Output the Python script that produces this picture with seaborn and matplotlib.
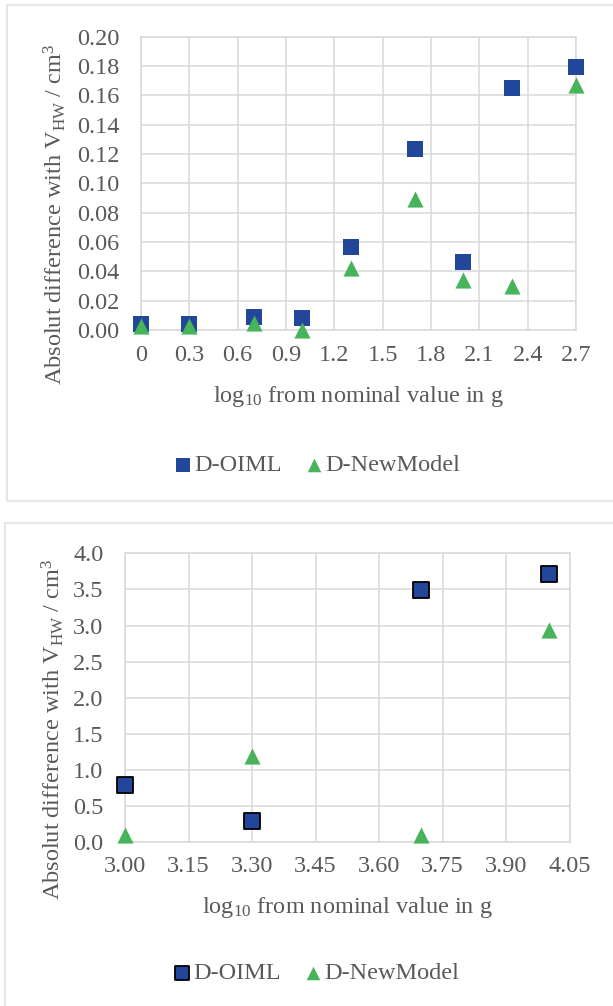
import matplotlib
matplotlib.use("Agg")
import matplotlib.pyplot as plt
import seaborn as sns
import pandas as pd
from matplotlib.patches import Rectangle
from matplotlib.ticker import FormatStrFormatter

# ---- data ----
x_small = [0.0, 0.301, 0.699, 1.0, 1.301, 1.699, 2.0, 2.301, 2.699]
oiml_small = [0.004, 0.004, 0.0086, 0.0079, 0.0567, 0.123, 0.0465, 0.165, 0.179]
new_small = [0.003, 0.003, 0.005, 0.0, 0.042, 0.089, 0.034, 0.030, 0.167]

x_large = [3.0, 3.301, 3.699, 4.0]
oiml_large = [0.80, 0.30, 3.49, 3.71]
new_large = [0.10, 1.19, 0.10, 2.94]

top_xticks = [0, 0.3, 0.6, 0.9, 1.2, 1.5, 1.8, 2.1, 2.4, 2.7]
top_xlabels = ["0", "0.3", "0.6", "0.9", "1.2", "1.5", "1.8", "2.1", "2.4", "2.7"]
top_yticks = [0.00, 0.02, 0.04, 0.06, 0.08, 0.10, 0.12, 0.14, 0.16, 0.18, 0.20]
bot_xticks = [3.00, 3.15, 3.30, 3.45, 3.60, 3.75, 3.90, 4.05]
bot_yticks = [0.0, 0.5, 1.0, 1.5, 2.0, 2.5, 3.0, 3.5, 4.0]

series_names = ["D-OIML", "D-NewModel"]

BLUE = "#22479A"
GREEN = "#47B45C"
GRID = "#D9D9D9"
TEXT = "#595959"
FS = 17.5

sns.set_theme(style="white")
plt.rcParams["font.family"] = ["Liberation Serif", "DejaVu Serif"]
plt.rcParams["mathtext.fontset"] = "custom"
plt.rcParams["mathtext.rm"] = "Liberation Serif"
plt.rcParams["mathtext.it"] = "Liberation Serif:italic"
plt.rcParams["mathtext.bf"] = "Liberation Serif:bold"

W, H = 613, 1006
fig = plt.figure(figsize=(W / 100, H / 100), dpi=100)
fig.patch.set_facecolor("white")

def fx(px):
    return px / W

def fy(py):
    return 1 - py / H

# panel borders (extend past right edge as in reference)
for (x0, y0, x1, y1) in [(7, 5.5, 640, 501.5), (5, 523, 640, 1040)]:
    fig.patches.append(Rectangle((fx(x0), fy(y1)), fx(x1 - x0), (y1 - y0) / H,
                                 transform=fig.transFigure, fill=False,
                                 edgecolor="#E6E6E6", linewidth=1.5, zorder=0))

def make_ax(l, r, t, b):
    return fig.add_axes([fx(l), fy(b), fx(r - l), (b - t) / H])

ax1 = make_ax(141, 576, 36.5, 330)
ax2 = make_ax(125, 569.7, 553.3, 842.3)

df1 = pd.DataFrame({"x": x_small * 2,
                    "y": oiml_small + new_small,
                    "series": [series_names[0]] * len(x_small) + [series_names[1]] * len(x_small)})
df2 = pd.DataFrame({"x": x_large * 2,
                    "y": oiml_large + new_large,
                    "series": [series_names[0]] * len(x_large) + [series_names[1]] * len(x_large)})

def draw(ax, df, edge):
    d1 = df[df.series == series_names[0]]
    d2 = df[df.series == series_names[1]]
    sns.scatterplot(data=d1, x="x", y="y", ax=ax, marker="s", s=144 if not edge else 130,
                    color=BLUE, edgecolor="black" if edge else BLUE,
                    linewidth=1.3 if edge else 0, label=series_names[0], zorder=3, clip_on=False)
    sns.scatterplot(data=d2, x="x", y="y", ax=ax, marker="^", s=135,
                    color=GREEN, edgecolor=GREEN, linewidth=0,
                    label=series_names[1], zorder=4, clip_on=False)

draw(ax1, df1, False)
draw(ax2, df2, True)

def style(ax, xticks, yticks, xlim, ylim, xfmt, yfmt, xlabels, xpad, ylab_coords, xlab_coords, leg_center):
    ax.set_xlim(*xlim)
    ax.set_ylim(*ylim)
    ax.set_xticks(xticks)
    ax.set_yticks(yticks)
    if xlabels is not None:
        ax.set_xticklabels(xlabels)
    else:
        ax.xaxis.set_major_formatter(FormatStrFormatter(xfmt))
    ax.yaxis.set_major_formatter(FormatStrFormatter(yfmt))
    ax.grid(True, color=GRID, linewidth=1.1)
    ax.set_axisbelow(True)
    for sp in ax.spines.values():
        sp.set_color(GRID)
        sp.set_linewidth(1.1)
    ax.tick_params(axis="both", length=0, labelsize=FS, colors=TEXT)
    ax.tick_params(axis="x", pad=xpad)
    ax.tick_params(axis="y", pad=15.5)
    ax.set_xlabel(r"log$_{10}$ from nominal value in g", fontsize=FS, color=TEXT, va="center")
    ax.set_ylabel(r"Absolut difference with V$_{\mathrm{HW}}$ / cm$^{3}$", fontsize=FS, color=TEXT,
                  va="center")
    ax.xaxis.set_label_coords(*xlab_coords)
    ax.yaxis.set_label_coords(*ylab_coords)
    handles, labels = ax.get_legend_handles_labels()
    lg = ax.get_legend()
    if lg is not None:
        lg.remove()
    fig.legend(handles, labels, loc="center",
               bbox_to_anchor=(fx(leg_center[0]), fy(leg_center[1])),
               bbox_transform=fig.transFigure, ncol=2, frameon=False,
               fontsize=FS, handletextpad=0.15, columnspacing=1.05, markerscale=0.84,
               handlelength=0.6, labelcolor=TEXT, borderpad=0, borderaxespad=0)

style(ax1, top_xticks, top_yticks, (0, 2.7), (0, 0.20), None, "%.2f", top_xlabels, 11,
      (-0.198, 0.395), (0.5, -0.228), (318, 465))
style(ax2, bot_xticks, bot_yticks, (3.0, 4.05), (0, 4.0), "%.2f", "%.1f", None, 10,
      (-0.162, 0.39), (0.5, -0.224), (317, 973))

fig.savefig("out.png", dpi=100, facecolor="white")
